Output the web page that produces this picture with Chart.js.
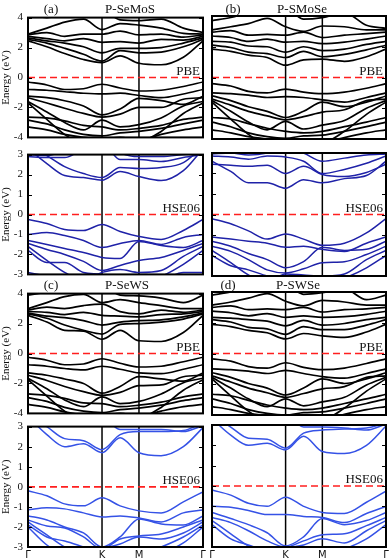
<!DOCTYPE html>
<html><head><meta charset="utf-8">
<script src="https://cdn.jsdelivr.net/npm/chart.js@4/dist/chart.umd.min.js"></script>
<style>
body{margin:0;background:#fff;width:390px;height:560px;position:relative;overflow:hidden;font-family:"Liberation Serif",serif}
canvas{position:absolute}
.t{position:absolute;font-size:13px;line-height:13px;color:#111;white-space:nowrap;font-family:"Liberation Serif",serif}
</style></head><body>
<script>
// k-path: Γ - K - M - Γ (units of 2π/a)
const kPath = [0, 0.17, 0.33, 0.5, 0.667, 0.83, 1.0, 1.2, 1.4, 1.577];
const kTickPos = [0, 0.667, 1.0, 1.577];
const kTickLabels = ['Γ', 'K', 'M', 'Γ'];
const pbeTicks = [-4, -2, 0, 2, 4];
const hseTicks = [-3, -2, -1, 0, 1, 2, 3];

// (a) P-SeMoS, PBE
const bandsSeMoS_PBE = [
  [2.45, 2.05, 1.6, 1.2, 1.0, 1.45, 0.95, 0.85, 1.35, 2.45],
  [2.55, 2.3, 1.95, 1.55, 1.1, 1.8, 1.65, 1.7, 2.05, 2.55],
  [2.65, 2.45, 2.3, 2.05, 1.65, 1.95, 1.95, 2.0, 2.3, 2.65],
  [2.75, 2.6, 2.45, 2.6, 2.35, 2.4, 2.3, 2.55, 2.5, 2.75],
  [2.85, 3.0, 2.75, 2.9, 2.9, 3.1, 2.85, 2.9, 2.7, 2.85],
  [2.9, 3.3, 3.7, 3.9, 3.2, 3.6, 3.5, 3.3, 2.95, 2.9],
  [4.2, 4.0, 4.2, 4.4, 4.5, 3.85, 3.8, 3.9, 3.3, 3.0],
  [-0.3, -0.5, -0.8, -0.75, -0.45, -0.7, -0.9, -0.85, -0.6, -0.3],
  [-0.8, -0.85, -0.95, -1.05, -1.1, -1.05, -1.2, -1.35, -1.1, -0.8],
  [-1.25, -1.35, -1.55, -1.9, -2.5, -2.1, -1.4, -1.55, -1.8, -1.25],
  [-1.35, -1.7, -2.05, -2.4, -2.65, -2.45, -2.0, -2.0, -1.45, -1.35],
  [-1.6, -2.3, -3.0, -3.5, -2.85, -3.3, -3.15, -2.7, -1.9, -1.6],
  [-2.65, -2.7, -2.9, -3.2, -3.3, -3.5, -3.4, -3.2, -2.8, -2.65],
  [-2.85, -3.1, -3.5, -3.8, -3.9, -3.7, -3.6, -3.4, -3.1, -2.85],
  [-3.3, -3.5, -3.8, -4.0, -4.1, -4.0, -4.2, -3.8, -3.5, -3.3],
  [-1.7, -2.8, -3.8, -4.5, -4.7, -4.4, -4.3, -3.6, -2.4, -1.7]
];
// (b) P-SMoSe, PBE
const bandsSMoSe_PBE = [
  [1.85, 1.7, 1.45, 1.3, 0.8, 1.15, 1.2, 1.05, 1.35, 1.85],
  [2.1, 1.95, 1.65, 1.55, 1.3, 1.7, 1.35, 1.5, 1.8, 2.1],
  [2.35, 2.3, 2.05, 2.0, 1.65, 2.0, 1.75, 1.85, 2.15, 2.35],
  [2.7, 2.6, 2.35, 2.5, 2.3, 2.35, 2.2, 2.3, 2.5, 2.7],
  [2.95, 3.05, 2.75, 2.8, 2.75, 2.95, 2.6, 2.75, 2.85, 2.95],
  [3.1, 3.3, 3.5, 3.85, 3.3, 3.0, 3.35, 3.3, 3.1, 3.1],
  [3.7, 3.9, 4.2, 4.4, 4.5, 3.8, 3.9, 4.2, 3.4, 3.2],
  [-0.4, -0.55, -0.9, -1.0, -0.75, -0.95, -1.05, -0.95, -0.7, -0.4],
  [-1.0, -1.05, -1.15, -1.3, -1.25, -1.3, -1.45, -1.6, -1.3, -1.0],
  [-1.2, -1.5, -1.9, -2.2, -2.6, -2.2, -1.6, -1.9, -1.6, -1.2],
  [-1.4, -1.8, -2.2, -2.5, -2.75, -2.55, -2.25, -2.1, -1.5, -1.4],
  [-1.5, -2.2, -2.9, -3.4, -2.85, -3.35, -3.1, -2.8, -2.0, -1.5],
  [-2.6, -2.7, -3.0, -3.3, -3.5, -3.6, -3.5, -3.2, -2.9, -2.6],
  [-2.9, -3.2, -3.6, -3.85, -3.95, -3.8, -3.75, -3.5, -3.2, -2.9],
  [-3.4, -3.6, -3.85, -4.0, -4.1, -4.05, -4.2, -3.9, -3.6, -3.4],
  [-1.6, -2.7, -3.7, -4.4, -4.6, -4.4, -4.3, -3.5, -2.4, -1.6]
];
// (a) P-SeMoS, HSE06
const bandsSeMoS_HSE = [
  [3.3, 2.55, 1.95, 1.85, 1.72, 2.15, 1.9, 1.7, 2.2, 3.3],
  [3.5, 2.95, 2.4, 2.05, 1.85, 2.35, 2.3, 2.35, 2.6, 3.4],
  [2.9, 2.85, 2.85, 3.3, 3.6, 2.75, 2.75, 2.65, 2.85, 3.0],
  [3.0, 2.95, 3.2, 3.5, 3.8, 3.1, 2.9, 2.9, 3.0, 3.1],
  [-0.25, -0.45, -0.75, -0.8, -0.5, -0.85, -1.1, -1.25, -0.8, -0.25],
  [-1.0, -0.9, -1.05, -1.3, -1.65, -1.45, -1.3, -1.5, -1.15, -1.0],
  [-1.3, -1.5, -1.7, -1.9, -2.15, -2.2, -1.35, -1.55, -1.65, -1.3],
  [-1.45, -1.75, -2.0, -2.35, -2.8, -2.55, -2.3, -2.15, -1.8, -1.45],
  [-1.6, -2.3, -2.9, -3.3, -2.9, -2.75, -2.9, -2.8, -2.1, -1.6],
  [-1.8, -2.4, -2.4, -2.9, -3.0, -3.3, -3.4, -3.1, -2.5, -1.8],
  [-2.9, -3.1, -3.4, -3.6, -3.6, -3.5, -3.5, -3.3, -2.9, -2.9]
];
// (b) P-SMoSe, HSE06
const bandsSMoSe_HSE = [
  [2.6, 2.1, 1.55, 1.55, 1.28, 1.7, 1.55, 1.75, 1.9, 2.6],
  [2.45, 2.4, 2.35, 2.4, 2.0, 2.35, 1.95, 1.85, 2.05, 2.45],
  [2.85, 2.8, 2.7, 2.85, 2.8, 2.6, 2.0, 2.2, 2.5, 2.85],
  [2.95, 3.0, 2.9, 3.0, 3.3, 3.0, 2.6, 2.75, 2.9, 2.95],
  [-0.2, -0.45, -0.8, -1.2, -0.95, -1.2, -1.5, -1.4, -0.9, -0.2],
  [-1.1, -1.2, -1.3, -1.4, -1.6, -1.55, -1.7, -1.8, -1.4, -1.1],
  [-1.3, -1.55, -1.9, -2.2, -2.6, -2.3, -1.6, -1.75, -1.7, -1.3],
  [-1.55, -1.8, -2.2, -2.7, -2.85, -2.65, -2.35, -2.3, -1.95, -1.55],
  [-1.75, -2.35, -2.95, -3.3, -2.9, -2.95, -3.0, -2.9, -2.2, -1.75],
  [-2.0, -2.5, -2.7, -3.0, -3.2, -3.3, -3.4, -3.1, -2.6, -2.0]
];
// (c) P-SeWS, PBE
const bandsSeWS_PBE = [
  [2.55, 2.1, 1.55, 1.5, 0.95, 1.55, 0.85, 0.8, 1.4, 2.55],
  [2.65, 2.35, 1.9, 1.55, 1.3, 1.95, 2.0, 2.1, 2.3, 2.65],
  [2.7, 2.5, 2.4, 2.2, 1.9, 2.1, 2.2, 2.25, 2.45, 2.7],
  [2.8, 2.75, 2.6, 2.75, 2.55, 2.5, 2.45, 2.6, 2.65, 2.8],
  [2.9, 3.1, 3.0, 3.2, 3.3, 2.8, 2.65, 2.9, 2.75, 2.9],
  [3.0, 3.4, 3.8, 3.95, 3.4, 3.6, 3.4, 3.2, 3.0, 3.0],
  [3.9, 4.1, 4.3, 4.4, 4.5, 3.9, 3.85, 3.7, 3.4, 3.9],
  [-0.25, -0.45, -0.75, -0.7, -0.35, -0.65, -0.9, -0.85, -0.55, -0.25],
  [-0.75, -0.85, -1.0, -1.1, -0.85, -1.05, -1.3, -1.35, -1.05, -0.75],
  [-1.3, -1.45, -1.7, -2.0, -2.65, -2.2, -1.55, -1.7, -1.85, -1.3],
  [-1.45, -1.8, -2.2, -2.55, -2.8, -2.6, -2.15, -2.1, -1.55, -1.45],
  [-1.65, -2.35, -3.1, -3.55, -2.9, -3.35, -3.2, -2.7, -1.95, -1.65],
  [-2.7, -2.8, -3.0, -3.3, -3.35, -3.55, -3.45, -3.25, -2.9, -2.7],
  [-2.95, -3.2, -3.6, -3.85, -3.95, -3.75, -3.65, -3.45, -3.15, -2.95],
  [-3.4, -3.6, -3.9, -4.1, -4.15, -4.0, -4.2, -3.85, -3.55, -3.4],
  [-1.75, -2.85, -3.85, -4.5, -4.7, -4.45, -4.35, -3.6, -2.45, -1.75]
];
// (d) P-SWSe, PBE
const bandsSWSe_PBE = [
  [1.9, 1.75, 1.5, 1.35, 0.95, 1.3, 1.15, 1.05, 1.4, 1.9],
  [2.2, 2.05, 1.7, 1.6, 1.25, 1.75, 1.55, 1.55, 1.85, 2.2],
  [2.35, 2.3, 2.2, 2.1, 1.8, 2.15, 1.85, 1.95, 2.2, 2.35],
  [2.75, 2.65, 2.45, 2.6, 2.35, 2.45, 2.35, 2.4, 2.55, 2.75],
  [3.0, 3.1, 2.85, 2.9, 2.85, 3.0, 2.7, 2.85, 2.9, 3.0],
  [3.15, 3.35, 3.6, 3.9, 3.4, 3.1, 3.45, 3.35, 3.15, 3.15],
  [3.8, 4.0, 4.3, 4.5, 4.5, 3.85, 3.95, 4.2, 3.5, 3.8],
  [-0.35, -0.5, -0.85, -0.95, -0.6, -0.9, -1.05, -0.95, -0.65, -0.35],
  [-1.0, -1.05, -1.15, -1.3, -1.1, -1.3, -1.5, -1.6, -1.3, -1.0],
  [-1.25, -1.55, -1.95, -2.25, -2.7, -2.25, -1.65, -1.95, -1.65, -1.25],
  [-1.45, -1.85, -2.25, -2.55, -2.85, -2.6, -2.3, -2.15, -1.55, -1.45],
  [-1.55, -2.25, -2.95, -3.45, -2.95, -3.4, -3.15, -2.85, -2.05, -1.55],
  [-2.65, -2.75, -3.05, -3.35, -3.55, -3.65, -3.55, -3.25, -2.95, -2.65],
  [-2.95, -3.25, -3.65, -3.9, -4.0, -3.85, -3.8, -3.55, -3.25, -2.95],
  [-3.45, -3.65, -3.9, -4.05, -4.15, -4.1, -4.25, -3.95, -3.65, -3.45],
  [-1.65, -2.75, -3.75, -4.45, -4.65, -4.45, -4.35, -3.55, -2.45, -1.65]
];
// (c) P-SeWS, HSE06
const bandsSeWS_HSE = [
  [3.5, 2.6, 2.0, 2.15, 1.7, 2.45, 1.7, 1.55, 2.0, 2.95],
  [3.6, 3.0, 2.4, 2.3, 1.85, 2.6, 2.75, 2.75, 2.8, 3.2],
  [3.5, 3.4, 3.3, 3.3, 3.5, 2.85, 2.85, 2.85, 2.75, 3.05],
  [-0.2, -0.45, -0.85, -0.95, -0.55, -0.95, -1.2, -1.3, -0.75, -0.25],
  [-1.15, -1.05, -1.1, -1.3, -1.5, -1.45, -1.55, -1.75, -1.3, -1.15],
  [-1.45, -1.65, -2.0, -2.3, -3.0, -2.5, -1.6, -1.85, -1.9, -1.45],
  [-1.65, -1.95, -2.05, -2.5, -3.1, -2.6, -2.45, -2.35, -2.0, -1.65],
  [-1.75, -2.4, -3.0, -3.4, -3.1, -2.85, -2.5, -2.6, -2.3, -1.75],
  [-1.9, -2.5, -2.7, -3.0, -3.3, -3.3, -3.4, -3.0, -2.5, -1.9],
  [-2.0, -2.9, -3.4, -3.7, -3.8, -3.5, -3.5, -3.3, -2.8, -2.0]
];
// (d) P-SWSe, HSE06
const bandsSWSe_HSE = [
  [3.3, 2.5, 2.0, 2.1, 1.78, 2.45, 1.7, 1.6, 2.0, 2.95],
  [3.5, 2.9, 2.35, 2.3, 1.86, 2.6, 2.75, 2.8, 2.85, 3.1],
  [3.5, 3.4, 3.3, 3.4, 3.5, 2.9, 2.9, 2.85, 2.75, 3.05],
  [-0.2, -0.45, -0.85, -1.0, -0.55, -1.0, -1.3, -1.35, -0.8, -0.25],
  [-1.0, -1.05, -1.2, -1.4, -1.4, -1.5, -1.55, -1.8, -1.35, -1.0],
  [-1.3, -1.6, -1.9, -2.3, -2.95, -2.5, -1.6, -1.9, -1.7, -1.3],
  [-1.55, -1.8, -2.2, -2.7, -3.0, -2.7, -2.4, -2.35, -1.95, -1.55],
  [-1.7, -2.35, -2.95, -3.3, -3.05, -2.9, -2.6, -2.8, -2.2, -1.7],
  [-1.9, -2.6, -2.9, -3.2, -3.3, -3.3, -3.4, -3.1, -2.6, -1.9]
];

const panels = [
  {bands: bandsSeMoS_PBE, x0: 28, x1: 203, y0: 16, y1: 139, yr: [-4, 4], ticks: pbeTicks, color: '#000000', lw: 1.7, left: true, bottom: false, tag: 'PBE'},
  {bands: bandsSMoSe_PBE, x0: 212, x1: 386, y0: 16, y1: 139, yr: [-4, 4], ticks: pbeTicks, color: '#000000', lw: 1.7, left: false, bottom: false, tag: 'PBE'},
  {bands: bandsSeMoS_HSE, x0: 28, x1: 203, y0: 153, y1: 276, yr: [-3, 3], ticks: hseTicks, color: '#1f22a8', lw: 1.5, left: true, bottom: false, tag: 'HSE06'},
  {bands: bandsSMoSe_HSE, x0: 212, x1: 386, y0: 153, y1: 276, yr: [-3, 3], ticks: hseTicks, color: '#1f22a8', lw: 1.5, left: false, bottom: false, tag: 'HSE06'},
  {bands: bandsSeWS_PBE, x0: 28, x1: 203, y0: 292, y1: 415, yr: [-4, 4], ticks: pbeTicks, color: '#000000', lw: 1.7, left: true, bottom: false, tag: 'PBE'},
  {bands: bandsSWSe_PBE, x0: 212, x1: 386, y0: 292, y1: 415, yr: [-4, 4], ticks: pbeTicks, color: '#000000', lw: 1.7, left: false, bottom: false, tag: 'PBE'},
  {bands: bandsSeWS_HSE, x0: 28, x1: 203, y0: 425, y1: 547, yr: [-3, 3], ticks: hseTicks, color: '#3552e6', lw: 1.5, left: true, bottom: true, tag: 'HSE06'},
  {bands: bandsSWSe_HSE, x0: 212, x1: 386, y0: 425, y1: 547, yr: [-3, 3], ticks: hseTicks, color: '#3552e6', lw: 1.5, left: false, bottom: true, tag: 'HSE06'}
];

const titles = [
  {text: '(a)', cx: 51, base: 13}, {text: 'P-SeMoS', cx: 130, base: 13},
  {text: '(b)', cx: 233, base: 13}, {text: 'P-SMoSe', cx: 302, base: 13},
  {text: '(c)', cx: 51, base: 289}, {text: 'P-SeWS', cx: 127, base: 289},
  {text: '(d)', cx: 228, base: 289}, {text: 'P-SWSe', cx: 298, base: 289}
];

const framePlugin = {
  id: 'frame',
  afterDraw(chart) {
    const {ctx, chartArea: a} = chart;
    const ys = chart.scales.y;
    const p = chart.options.plugins.frame;
    ctx.save();
    ctx.strokeStyle = '#000';
    ctx.lineWidth = 1;
    p.ticks.forEach(v => {
      const y = Math.round(ys.getPixelForValue(v)) + 0.5;
      ctx.beginPath();
      ctx.moveTo(a.left, y); ctx.lineTo(a.left + 4, y);
      ctx.moveTo(a.right, y); ctx.lineTo(a.right - 4, y);
      ctx.stroke();
    });
    ctx.lineWidth = 2;
    ctx.strokeRect(a.left, a.top, a.right - a.left, a.bottom - a.top);
    ctx.restore();
  }
};

panels.forEach(p => {
  const padL = p.left ? 28 : 8, padR = 8, padT = 10, padB = p.bottom ? 13 : 10;
  const cv = document.createElement('canvas');
  const W = (p.x1 - p.x0) + padL + padR, H = (p.y1 - p.y0) + padT + padB;
  cv.width = W; cv.height = H;
  cv.style.left = (p.x0 - padL) + 'px'; cv.style.top = (p.y0 - padT) + 'px';
  cv.style.width = W + 'px'; cv.style.height = H + 'px';
  document.body.appendChild(cv);

  const ds = p.bands.map(b => ({
    data: b.map((y, i) => ({x: kPath[i], y})),
    borderColor: p.color, borderWidth: p.lw, pointRadius: 0,
    cubicInterpolationMode: 'monotone', fill: false, order: 1
  }));
  [0.667, 1.0].forEach(k => ds.push({
    data: [{x: k, y: p.yr[0]}, {x: k, y: p.yr[1]}],
    borderColor: '#000', borderWidth: 1.5, pointRadius: 0, order: 2
  }));
  ds.push({
    data: [{x: 0, y: 0}, {x: 1.577, y: 0}],
    borderColor: '#ff1f1f', borderWidth: 1.7, borderDash: [7, 4], pointRadius: 0, order: -1
  });

  const chart = new Chart(cv, {
    type: 'line',
    data: {datasets: ds},
    plugins: [framePlugin],
    options: {
      responsive: false, animation: false, devicePixelRatio: 1,
      layout: {padding: {top: padT, right: padR, left: 0, bottom: p.bottom ? 0 : padB}},
      plugins: {legend: {display: false}, tooltip: {enabled: false}, frame: {ticks: p.ticks}},
      scales: {
        x: {
          type: 'linear', min: 0, max: 1.577, display: p.bottom,
          grid: {display: false, drawTicks: false}, border: {display: false},
          afterFit: s => { if (p.bottom) s.height = padB; },
          afterBuildTicks: s => { s.ticks = kTickPos.map(v => ({value: v})); },
          ticks: {autoSkip: false, maxRotation: 0, padding: 2, color: '#111',
            font: {family: 'DejaVu Sans', size: 10},
            callback: (v, i) => kTickLabels[i]}
        },
        y: {
          min: p.yr[0], max: p.yr[1], display: true,
          grid: {display: false, drawTicks: false}, border: {display: false},
          afterFit: s => { s.width = padL; },
          afterBuildTicks: s => { s.ticks = p.ticks.map(v => ({value: v})); },
          ticks: {display: p.left, padding: 5, color: '#111',
            font: {family: 'Liberation Serif', size: 11}},
          title: {display: p.left, text: 'Energy (eV)', padding: 0, color: '#111',
            font: {family: 'Liberation Serif', size: 11}}
        }
      }
    }
  });

  // place the method label just above the Fermi level, using the chart's own scale
  const a = chart.chartArea;
  const zeroY = (p.y0 - padT) + chart.scales.y.getPixelForValue(0);
  const lab = document.createElement('div');
  lab.className = 't';
  lab.textContent = p.tag;
  lab.style.right = (390 - (p.x0 - padL + a.right - 3)) + 'px';
  lab.style.top = (zeroY - 3 - 11) + 'px';
  document.body.appendChild(lab);
});

titles.forEach(t => {
  const d = document.createElement('div');
  d.className = 't';
  d.textContent = t.text;
  d.style.top = (t.base - 11) + 'px';
  d.style.left = t.cx + 'px';
  d.style.transform = 'translateX(-50%)';
  document.body.appendChild(d);
});
</script>
</body></html>
